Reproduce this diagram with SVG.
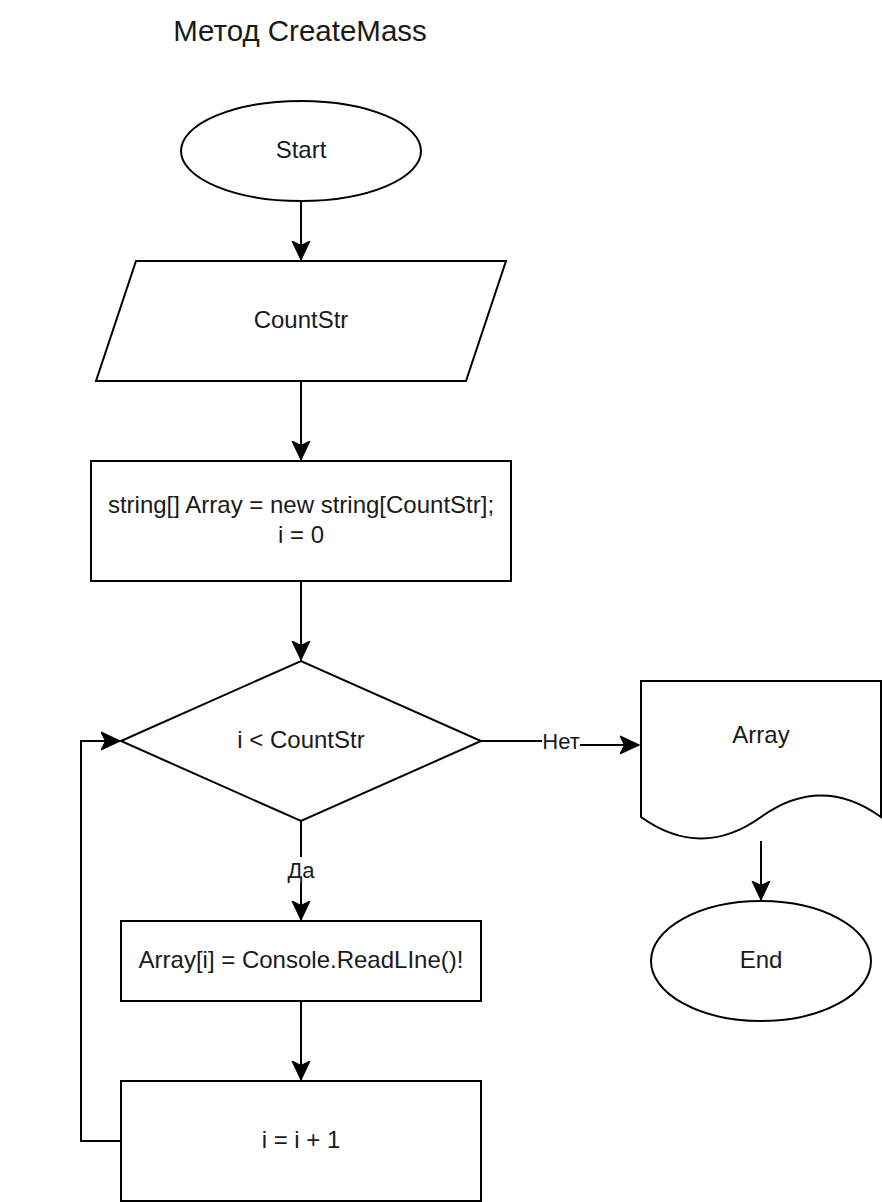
<svg xmlns="http://www.w3.org/2000/svg" width="882" height="1202" viewBox="0 0 882 1202">
<style>
.s{fill:#ffffff;stroke:#000000;stroke-width:2}
.t{font-family:"Liberation Sans",Arial,sans-serif;font-size:24px;fill:#1a1a1a;text-anchor:middle}
.l{font-family:"Liberation Sans",Arial,sans-serif;font-size:22px;fill:#1a1a1a;text-anchor:middle}
.e{fill:none;stroke:#000000;stroke-width:2}
</style>
<defs>
<marker id="arr" markerUnits="userSpaceOnUse" markerWidth="20" markerHeight="20" viewBox="0 -9 18 18" refX="17" refY="0" orient="auto">
<path d="M0,-8 L17,0 L0,8 L4,0 Z" fill="#000000" stroke="#000000" stroke-width="1"/>
</marker>
</defs>
<rect width="882" height="1202" fill="#ffffff"/>
<text x="300" y="41" class="t" style="font-size:29.5px">Метод CreateMass</text>
<g id="connectors">
<line class="e" x1="301" y1="201" x2="301" y2="260" marker-end="url(#arr)"/>
<line class="e" x1="301" y1="381" x2="301" y2="460" marker-end="url(#arr)"/>
<line class="e" x1="301" y1="581" x2="301" y2="660" marker-end="url(#arr)"/>
<line class="e" x1="301" y1="821" x2="301" y2="920" marker-end="url(#arr)"/>
<line class="e" x1="301" y1="1001" x2="301" y2="1080" marker-end="url(#arr)"/>
<polyline class="e" points="121,1141 81,1141 81,741 120,741" marker-end="url(#arr)"/>
<polyline class="e" points="481,741 561,741 561,745 639,745" marker-end="url(#arr)"/>
<line class="e" x1="761" y1="841" x2="761" y2="900" marker-end="url(#arr)"/>
<rect x="287" y="857" width="28" height="26" fill="#ffffff"/>
<text x="301" y="878" class="l">Да</text>
<rect x="542" y="730" width="38" height="24" fill="#ffffff"/>
<text x="561" y="749" class="l">Нет</text>
</g>
<g id="start">
<ellipse class="s" cx="301" cy="151" rx="120" ry="50"/>
<text x="301" y="158" class="t">Start</text>
</g>
<g id="input">
<polygon class="s" points="136,261 506,261 466,381 96,381"/>
<text x="301" y="328" class="t">CountStr</text>
</g>
<g id="init">
<rect class="s" x="91" y="461" width="420" height="120"/>
<text x="301" y="513" class="t">string[] Array = new string[CountStr];</text>
<text x="301" y="543" class="t">i = 0</text>
</g>
<g id="cond">
<polygon class="s" points="121,741 301,661 481,741 301,821"/>
<text x="301" y="748" class="t">i &lt; CountStr</text>
</g>
<g id="read">
<rect class="s" x="121" y="921" width="360" height="80"/>
<text x="301" y="968" class="t">Array[i] = Console.ReadLIne()!</text>
</g>
<g id="inc">
<rect class="s" x="121" y="1081" width="360" height="120"/>
<text x="301" y="1148" class="t">i = i + 1</text>
</g>
<g id="output">
<path class="s" d="M641,681 L881,681 L881,817 Q821,774 761,817 Q701,860 641,817 Z"/>
<text x="761" y="743" class="t">Array</text>
</g>
<g id="end">
<ellipse class="s" cx="761" cy="961" rx="110" ry="60"/>
<text x="761" y="968" class="t">End</text>
</g>
</svg>
